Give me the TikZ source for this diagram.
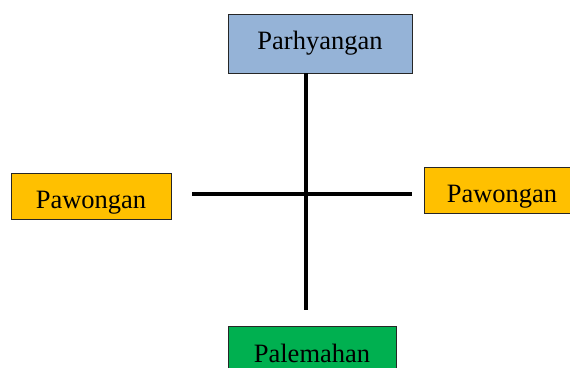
\documentclass[tikz,border=0pt]{standalone}
\usepackage{fontspec}
\setmainfont{Liberation Serif}
\usetikzlibrary{calc,positioning}
\definecolor{skyblue}{HTML}{95B3D7}
\definecolor{amber}{HTML}{FFC000}
\definecolor{leafgreen}{HTML}{00B050}
\tikzset{
      areabox/.style = {draw=black!85, thin, inner sep=0pt, font=\fontsize{26.5}{26.5}\selectfont},
      godbox/.style = {areabox, fill=skyblue},
      humanbox/.style = {areabox, fill=amber, text height=24pt, text depth=0pt},
      landbox/.style = {areabox, fill=leafgreen, text height=26pt, text depth=0pt},
      crossline/.style = {black, line width=4pt},
    }

\begin{document}
\begin{tikzpicture}[x=1pt,y=-1pt]
        \useasboundingbox (0,0) rectangle (570,367);
        \node [godbox, minimum width=184pt, minimum height=59pt] (parhyangan) at (320,43.5) {Parhyangan};
        \node [humanbox, minimum width=160pt, minimum height=46pt] (pawonganleft) at (91,196) {Pawongan};
        \node [humanbox, minimum width=156pt, minimum height=46pt] (pawonganright) at (502,190) {Pawongan};
        \node [landbox, minimum width=168pt, minimum height=46pt] (palemahan) at (312,349) {Palemahan};

        \coordinate (cross) at (305.5,194);
        \coordinate (crossbottom) at (305.5,310);
        \coordinate (crossleft) at (192,194);
        \coordinate (crossright) at (412,194);

        \draw [crossline] (cross |- parhyangan.south) -- (crossbottom);
        \draw [crossline] (crossleft) -- (crossright);
    \end{tikzpicture}
\end{document}
